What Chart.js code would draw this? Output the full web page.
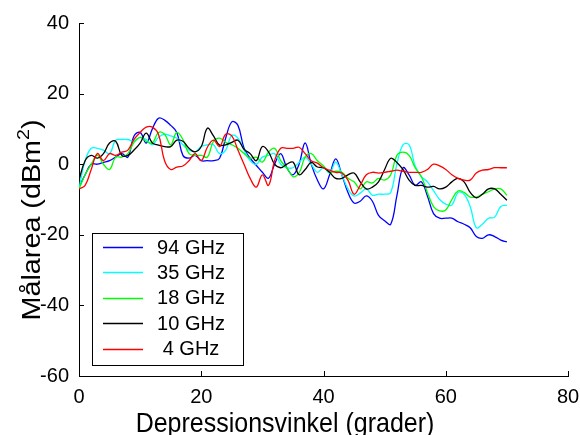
<!DOCTYPE html>
<html>
<head>
<meta charset="utf-8">
<script src="https://cdn.jsdelivr.net/npm/chart.js@4.4.1/dist/chart.umd.min.js"></script>
<style>
html,body{margin:0;padding:0;background:#fff;}
#wrap{width:580px;height:435px;position:relative;}
</style>
</head>
<body>
<div id="wrap"><canvas id="c" width="580" height="435"></canvas></div>
<script>
// Depression angle (degrees)
const angles = [0,1,2,3,4,5,6,7,8,9,10,11,12,13,14,15,16,17,18,19,20,21,22,23,24,25,26,27,28,29,30,31,32,33,34,35,36,37,38,39,40,41,42,43,44,45,46,47,48,49,50,51,52,53,54,55,56,57,58,59,60,61,62,63,64,65,66,67,68,69,70];

const ghz94 = [-6.5,-3,0,0,0.5,1,2,3,2,8,9,6,10,13,12.5,11,9,2.5,1.7,2.5,1,1,1,1.7,7.4,12,11,4.5,1.7,-0.3,-2.3,-4,0,3,-1,-3,0,6,0,-4.5,-7,-3,1.5,-3,-8,-11,-10.5,-9,-10.5,-14.5,-16,-17,-9,-1,-3,-6,-5,-9,-14,-15.3,-15.3,-15.3,-16.3,-17,-18,-20.5,-21,-20,-20.5,-21.5,-22];
const ghz35 = [-7,1,4.5,4.5,4,3,6.8,7,7,6.5,7.6,7,5.5,7.6,8.5,8,7.4,5.5,4,3.5,5,5.5,5.5,3,4,8.2,7.4,4,1,0,2,2.5,3,0,-1,-1,0.5,2,0,-2.3,-1,-2.5,0.6,-3,-7,-9,-8.2,-7,-8.8,-8.5,-8.5,-8,0,5.5,5.5,-0.5,-3.5,-5,-7.5,-10,-11.3,-11.6,-8,-8.5,-12,-18,-17,-15.3,-15,-12,-11.6];
const ghz18 = [-7,-3,0,2.5,0,-1.5,2,2,3,6.2,7.6,6.5,6,9,8.5,5.5,9,7,3,2.5,2.5,2,6.5,7.4,6.2,5.5,4.5,3,1.7,2,0.6,3.4,4.5,1,-1,-3.5,-2.5,2,3,1,-0.5,-2.3,-2,-2.3,-4,-5,-7,-5,-5.3,-4,-4.5,-3,2.5,3.4,2.5,-1,-3.5,-8,-12,-13.2,-13,-10,-7.6,-8,-9.3,-9.3,-8.5,-7.8,-7,-7,-8.8];
const ghz10 = [-4.5,1,2.5,1.7,3,6,6.5,2.5,2.5,4,6,8.8,6,5.4,5,5,6.8,6.5,4.5,3.5,5,10.2,8,5.4,5.5,6.2,6.8,4.2,3,1,5,3.5,0,-1,0,0.6,-3,-1.5,0.5,-0.8,-1,-2.3,-4,-4,-3,-2.5,-5,-7,-6.5,-5,-1.5,1.7,0.5,-1.5,-4.5,-6,-6,-6.5,-6.3,-7,-6.5,-5,-4,-5,-8,-9.5,-8.5,-7,-7,-8.5,-10.2];
const ghz4 = [-7,-6,-1.5,3,1,3,2.5,3.4,4,7,9,10.5,10.5,8.5,1,-1.5,-0.8,-0.5,1,3,1,4.8,6.8,5,8.5,8,4,0,-4,-6.5,-3,-6,1,4.5,4.5,4.5,4.8,3,1,0.3,-1,-1.7,-2.3,-2.5,-4.5,-8.5,-6,-3,-2.3,-2.5,-2.3,-2,-1.7,-2,-2.3,-2.3,-2.3,-1.5,0,-0.5,-1.5,-3,-4,-4.5,-4.5,-2.5,-1.7,-1.5,-1,-1,-1];

const seriesLabels = ['94 GHz','35 GHz','18 GHz','10 GHz','4 GHz'];
const seriesValues = [ghz94, ghz35, ghz18, ghz10, ghz4];
const seriesColors = ['#0000ff','#00ffff','#00ff00','#000000','#ff0000'];

const xTicks = [0,20,40,60,80];
const yTicks = [-60,-40,-20,0,20,40];

const xTitle = 'Depressionsvinkel (grader)';
const yTitleMain = 'Målarea (dBm';
const yTitleSup = '2';
const yTitleEnd = ')';

const FONT = '"Liberation Sans", Arial, Helvetica, sans-serif';

const datasets = seriesValues.map((vals, k) => ({
  label: seriesLabels[k],
  data: angles.map((a, i) => ({x: a, y: vals[i]})),
  borderColor: seriesColors[k],
  backgroundColor: seriesColors[k],
  borderWidth: 1.3,
  pointRadius: 0,
  tension: 0.4,
  fill: false,
  order: seriesValues.length - k
}));

const decorPlugin = {
  id: 'decor',
  afterDraw(chart) {
    const ctx = chart.ctx;
    const xs = chart.scales.x, ys = chart.scales.y;
    const area = chart.chartArea;
    ctx.save();
    // inward tick marks
    ctx.strokeStyle = '#000';
    ctx.lineWidth = 1;
    ctx.beginPath();
    yTicks.forEach(v => {
      const p = Math.round(ys.getPixelForValue(v)) + 0.5;
      ctx.moveTo(area.left, p); ctx.lineTo(area.left + 5, p);
    });
    xTicks.forEach(v => {
      const p = Math.round(xs.getPixelForValue(v)) + 0.5;
      ctx.moveTo(p, area.bottom); ctx.lineTo(p, area.bottom - 5);
    });
    ctx.stroke();

    // legend box
    const lx = 92, ly = 233, lw = 151, lh = 132;
    ctx.fillStyle = '#fff';
    ctx.fillRect(lx, ly, lw, lh);
    ctx.strokeStyle = '#000';
    ctx.lineWidth = 1;
    ctx.strokeRect(lx + 0.5, ly + 0.5, lw, lh);
    ctx.font = '20px ' + FONT;
    ctx.textAlign = 'center';
    ctx.textBaseline = 'middle';
    chart.data.datasets.forEach((ds, k) => {
      const y = 247 + k * 25.4;
      ctx.strokeStyle = ds.borderColor;
      ctx.lineWidth = 1.3;
      ctx.beginPath();
      ctx.moveTo(103, Math.round(y) + 0.5); ctx.lineTo(143, Math.round(y) + 0.5);
      ctx.stroke();
      ctx.fillStyle = '#000';
      ctx.fillText(ds.label, 191, y + 1);
    });

    // x axis title (slightly stretched vertically like the source)
    ctx.fillStyle = '#000';
    ctx.font = '25px ' + FONT;
    ctx.textAlign = 'center';
    ctx.textBaseline = 'alphabetic';
    ctx.save();
    ctx.translate(285, 432);
    ctx.scale(1, 1.12);
    ctx.fillText(xTitle, 0, 0);
    ctx.restore();

    // y axis title, rotated, with superscript
    ctx.save();
    ctx.translate(39.5, 220);
    ctx.rotate(-Math.PI / 2);
    ctx.scale(1.15, 1);
    ctx.textAlign = 'left';
    ctx.font = '25px ' + FONT;
    const w1 = ctx.measureText(yTitleMain).width;
    const w3 = ctx.measureText(yTitleEnd).width;
    ctx.font = '17px ' + FONT;
    const w2 = ctx.measureText(yTitleSup).width;
    const total = w1 + w2 + w3;
    let x0 = -total / 2;
    ctx.font = '25px ' + FONT;
    ctx.fillText(yTitleMain, x0, 0);
    ctx.font = '17px ' + FONT;
    ctx.fillText(yTitleSup, x0 + w1, -11);
    ctx.font = '25px ' + FONT;
    ctx.fillText(yTitleEnd, x0 + w1 + w2, 0);
    ctx.restore();

    ctx.restore();
  }
};

new Chart(document.getElementById('c'), {
  type: 'line',
  data: { datasets },
  options: {
    responsive: false,
    devicePixelRatio: 1,
    animation: false,
    layout: { padding: { left: 0, right: 12, top: 23, bottom: 0 } },
    plugins: { legend: { display: false }, tooltip: { enabled: false } },
    scales: {
      x: {
        type: 'linear',
        min: 0, max: 80,
        afterBuildTicks: s => { s.ticks = xTicks.map(v => ({value: v})); },
        afterFit: s => { s.height = 59; s.paddingLeft = 0; s.paddingRight = 0; },
        grid: { display: false, drawTicks: false },
        border: { display: true, color: '#000', width: 1 },
        ticks: { color: '#000', font: { family: FONT, size: 20 }, padding: 9, maxRotation: 0 }
      },
      y: {
        type: 'linear',
        min: -60, max: 40,
        afterBuildTicks: s => { s.ticks = yTicks.map(v => ({value: v})); },
        afterFit: s => { s.width = 79; s.paddingTop = 0; s.paddingBottom = 0; },
        grid: { display: false, drawTicks: false },
        border: { display: true, color: '#000', width: 1 },
        ticks: { color: '#000', font: { family: FONT, size: 20 }, padding: 10 }
      }
    }
  },
  plugins: [decorPlugin]
});
</script>
</body>
</html>
